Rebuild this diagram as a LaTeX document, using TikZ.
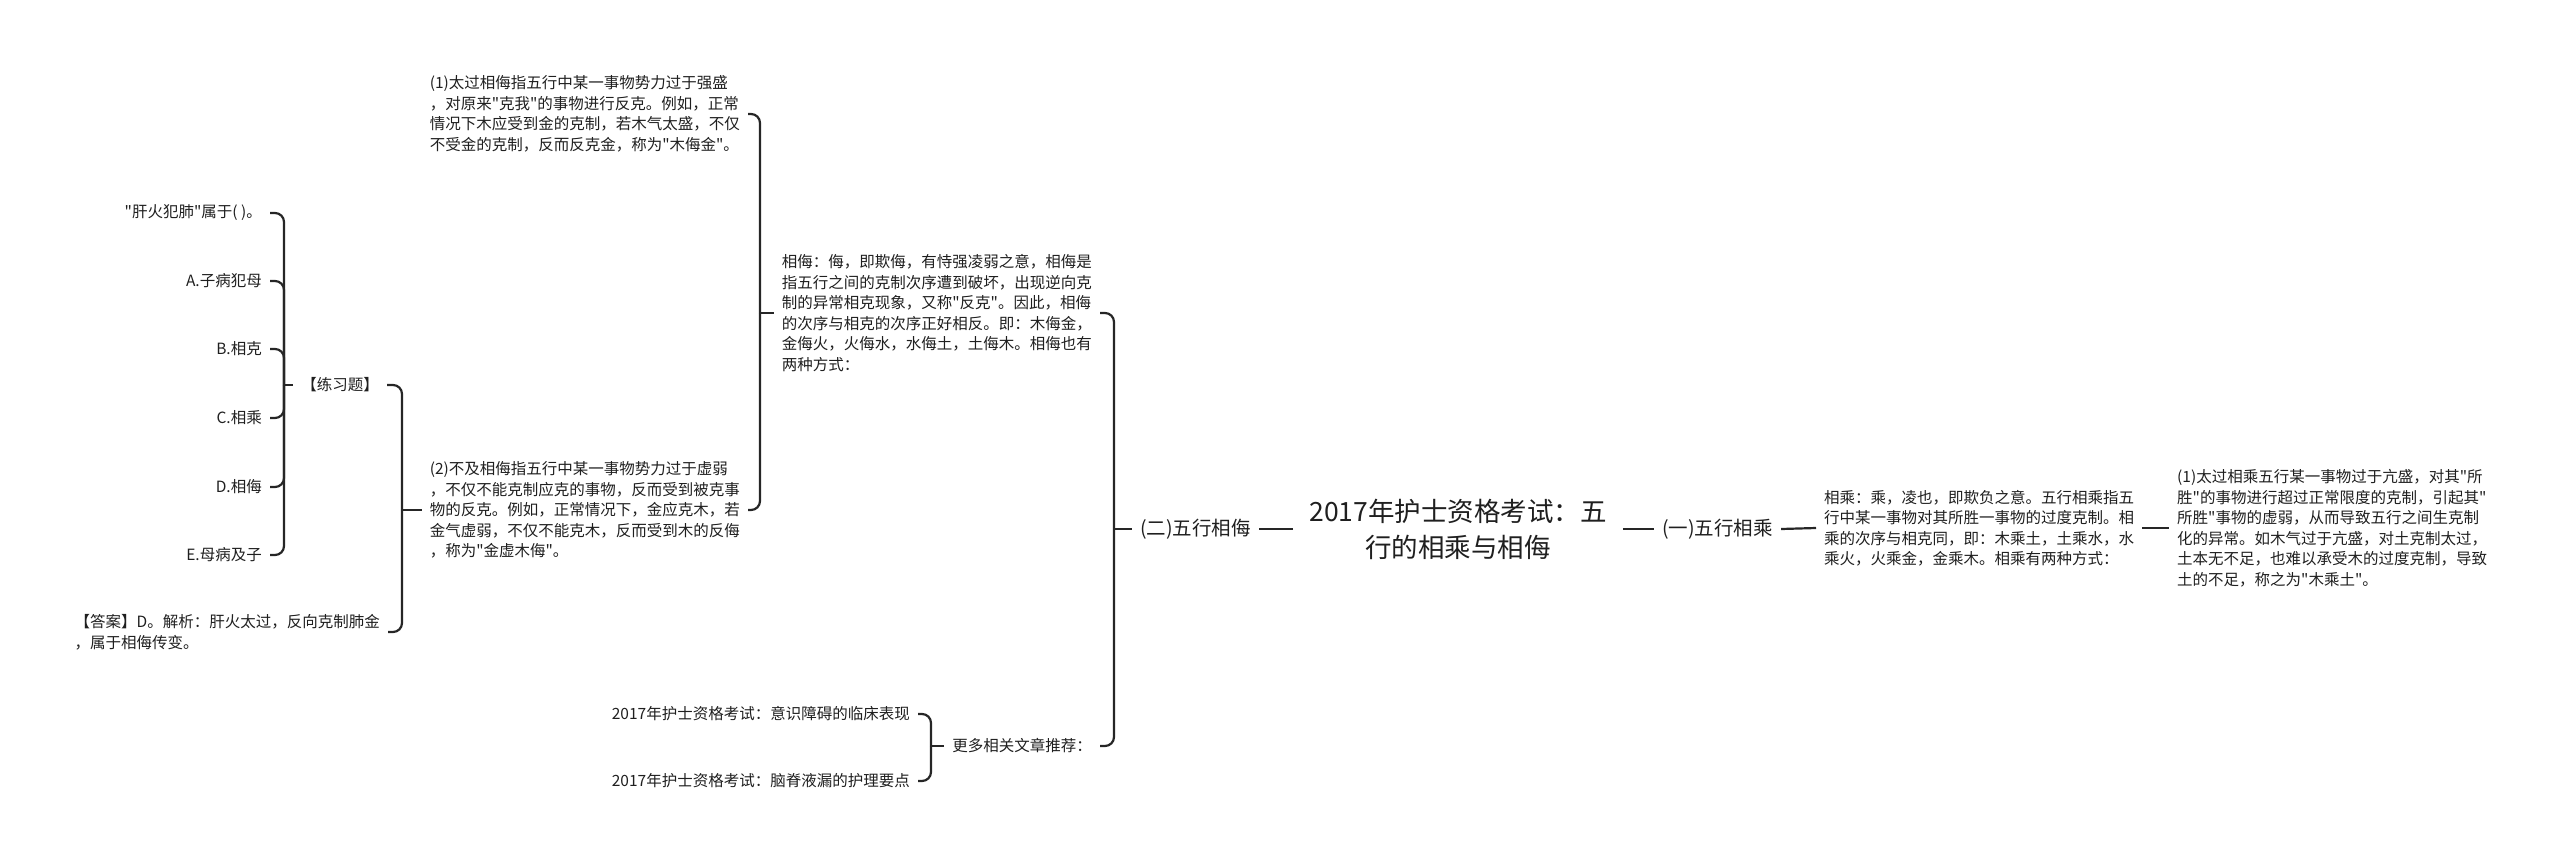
\documentclass[tikz,border=0pt]{standalone}
\usepackage{fontspec}
\setmainfont{Noto Sans CJK SC}[Ligatures=TeXOff]
\usepackage{tikz}
\usetikzlibrary{positioning}

\begin{document}
\begin{tikzpicture}[
  x=1pt, y=-1pt,
  rootnode/.style = {align=center, inner xsep=16pt, inner ysep=4pt,
                     font=\fontsize{26.5}{36}\selectfont, text=black!88},
  topic/.style    = {inner xsep=8pt, inner ysep=3pt,
                     font=\fontsize{19.5}{24}\selectfont, text=black!88},
  leaf/.style     = {align=left, inner xsep=8pt, inner ysep=2pt,
                     font=\fontsize{15.5}{20.5}\selectfont, text=black!88},
  conn/.style     = {line width=2.2pt, black!85, rounded corners=9pt}
]
\useasboundingbox (0,0) rectangle (2560,865);

%% ---- CENTRE ----
\node[rootnode] (root) at (1458,529) {2017年护士资格考试：五\\行的相乘与相侮};

%% ---- RIGHT: XIANG CHENG ----
\node[topic, anchor=west] (chengtopic) at (1654,529) {(一)五行相乘};
\node[leaf, anchor=west]  (chengdef)   at (1816,528)
  {相乘：乘，凌也，即欺负之意。五行相乘指五\\行中某一事物对其所胜一事物的过度克制。相\\乘的次序与相克同，即：木乘土，土乘水，水\\乘火，火乘金，金乘木。相乘有两种方式：};
\node[leaf, anchor=west]  (chengone)   at (2169,528)
  {(1)太过相乘五行某一事物过于亢盛，对其"所\\胜"的事物进行超过正常限度的克制，引起其"\\所胜"事物的虚弱，从而导致五行之间生克制\\化的异常。如木气过于亢盛，对土克制太过，\\土本无不足，也难以承受木的过度克制，导致\\土的不足，称之为"木乘土"。};

\draw[conn] (root.east)       -- (chengtopic.west);
\draw[conn] (chengtopic.east) -- (chengdef.west);
\draw[conn] (chengdef.east)   -- (chengone.west);

%% ---- LEFT: XIANG WU ----
\node[topic, anchor=east] (wutopic) at (1259,529) {(二)五行相侮};
\node[leaf, anchor=east]  (wudef)   at (1100,313)
  {相侮：侮，即欺侮，有恃强凌弱之意，相侮是\\指五行之间的克制次序遭到破坏，出现逆向克\\制的异常相克现象，又称"反克"。因此，相侮\\的次序与相克的次序正好相反。即：木侮金，\\金侮火，火侮水，水侮土，土侮木。相侮也有\\两种方式：};
\node[leaf, anchor=east]  (more)    at (1100,746) {更多相关文章推荐：};

\node[leaf, anchor=east] (wuone) at (748,114)
  {(1)太过相侮指五行中某一事物势力过于强盛\\，对原来"克我"的事物进行反克。例如，正常\\情况下木应受到金的克制，若木气太盛，不仅\\不受金的克制，反而反克金，称为"木侮金"。};
\node[leaf, anchor=east] (wutwo) at (748,510)
  {(2)不及相侮指五行中某一事物势力过于虚弱\\，不仅不能克制应克的事物，反而受到被克事\\物的反克。例如，正常情况下，金应克木，若\\金气虚弱，不仅不能克木，反而受到木的反侮\\，称为"金虚木侮"。};

\node[leaf, anchor=east] (exer)   at (387,385) {【练习题】};
\node[leaf, anchor=east] (answer) at (388,632)
  {【答案】D。解析：肝火太过，反向克制肺金\\，属于相侮传变。};

% exercise options
\node[leaf, anchor=east] (question) at (270,213) {"肝火犯肺"属于( )。};
\node[leaf, anchor=east] (optA)     at (270,281) {A.子病犯母};
\node[leaf, anchor=east] (optB)     at (270,349) {B.相克};
\node[leaf, anchor=east] (optC)     at (270,418) {C.相乘};
\node[leaf, anchor=east] (optD)     at (270,487) {D.相侮};
\node[leaf, anchor=east] (optE)     at (270,555) {E.母病及子};

% related articles
\node[leaf, anchor=east] (artone) at (918,714) {2017年护士资格考试：意识障碍的临床表现};
\node[leaf, anchor=east] (arttwo) at (918,781) {2017年护士资格考试：脑脊液漏的护理要点};

% brace points
\coordinate (wubr)   at (1114,529);
\coordinate (defbr)  at (760,313);
\coordinate (twobr)  at (402,510);
\coordinate (exbr)   at (284,385);
\coordinate (morebr) at (931,746);

% connectors
\draw[conn] (root.west) -- (wutopic.east);
\draw[conn] (wutopic.west) -- (wubr);
\draw[conn] (wubr) |- (wudef.east);
\draw[conn] (wubr) |- (more.east);

\draw[conn] (wudef.west) -- (defbr);
\draw[conn] (defbr) |- (wuone.east);
\draw[conn] (defbr) |- (wutwo.east);

\draw[conn] (wutwo.west) -- (twobr);
\draw[conn] (twobr) |- (exer.east);
\draw[conn] (twobr) |- (answer.east);

\draw[conn] (exer.west) -- (exbr);
\draw[conn] (exbr) |- (question.east);
\draw[conn] (exbr) |- (optA.east);
\draw[conn] (exbr) |- (optB.east);
\draw[conn] (exbr) |- (optC.east);
\draw[conn] (exbr) |- (optD.east);
\draw[conn] (exbr) |- (optE.east);

\draw[conn] (more.west) -- (morebr);
\draw[conn] (morebr) |- (artone.east);
\draw[conn] (morebr) |- (arttwo.east);

\end{tikzpicture}
\end{document}
